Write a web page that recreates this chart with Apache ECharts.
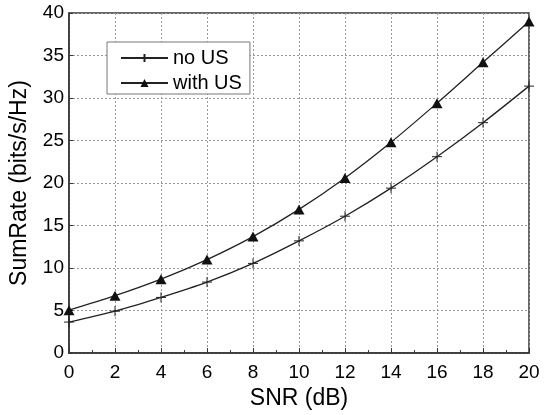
<!DOCTYPE html>
<html>
<head>
<meta charset="utf-8">
<script src="https://cdn.jsdelivr.net/npm/echarts@6/dist/echarts.min.js"></script>
<style>html,body{margin:0;padding:0;background:#fff}#c{width:548px;height:415px}</style>
</head>
<body>
<div id="c"></div>
<script>
var snr = [0, 2, 4, 6, 8, 10, 12, 14, 16, 18, 20];
var noUS = [3.65, 4.93, 6.55, 8.35, 10.55, 13.2, 16.1, 19.4, 23.1, 27.1, 31.4];
var withUS = [5.05, 6.75, 8.7, 11.0, 13.7, 16.9, 20.6, 24.8, 29.4, 34.2, 39.0];
var seriesNames = ['no US', 'with US'];
var xTicks = [0, 2, 4, 6, 8, 10, 12, 14, 16, 18, 20];
var yTicks = [0, 5, 10, 15, 20, 25, 30, 35, 40];

function pairs(xs, ys) { return xs.map(function (x, i) { return [x, ys[i]]; }); }

var FONT = 'Liberation Sans, Arial, sans-serif';
var plusPath = 'path://M0,5L10,5M5,0L5,10';
var chart = echarts.init(document.getElementById('c'));
chart.setOption({
  animation: false,
  backgroundColor: '#fff',
  grid: { left: 68, top: 13, right: 19, bottom: 60, show: true, borderColor: '#333', borderWidth: 1.5, backgroundColor: 'transparent' },
  legend: {
    orient: 'vertical', left: 107, top: 42,
    padding: [6, 8, 1, 13], itemGap: 5,
    itemWidth: 47, itemHeight: 10,
    borderColor: '#777', borderWidth: 1, backgroundColor: '#fff',
    textStyle: { fontFamily: FONT, fontSize: 20, color: '#000', lineHeight: 18, padding: [0, 0, 0, 0] },
    data: seriesNames
  },
  xAxis: {
    type: 'value', min: xTicks[0], max: xTicks[xTicks.length - 1], interval: 2,
    name: 'SNR (dB)', nameLocation: 'middle', nameGap: 32,
    nameTextStyle: { fontFamily: FONT, fontSize: 23, color: '#000' },
    axisLine: { lineStyle: { color: '#333', width: 1.5 } },
    axisTick: { inside: true, length: 5, lineStyle: { color: '#333' } },
    minorTick: { show: true, splitNumber: 2, length: 3, lineStyle: { color: '#333' } },
    axisLabel: { fontFamily: FONT, fontSize: 19, color: '#000', margin: 10 },
    splitLine: { show: true, lineStyle: { color: '#999', type: [2, 2], width: 1 } }
  },
  yAxis: {
    type: 'value', min: yTicks[0], max: yTicks[yTicks.length - 1], interval: 5,
    name: 'SumRate (bits/s/Hz)', nameLocation: 'middle', nameGap: 38,
    nameTextStyle: { fontFamily: FONT, fontSize: 23, color: '#000' },
    axisLine: { show: true, lineStyle: { color: '#333', width: 1.5 } },
    axisTick: { show: true, inside: true, length: 4, lineStyle: { color: '#333' } },
    axisLabel: { fontFamily: FONT, fontSize: 19, color: '#000', margin: 5 },
    splitLine: { show: true, lineStyle: { color: '#999', type: [2, 2], width: 1 } }
  },
  series: [
    {
      name: seriesNames[0], type: 'line', smooth: 0.3, data: pairs(snr, noUS),
      symbol: plusPath, symbolSize: 10,
      lineStyle: { color: '#222', width: 1.3 },
      itemStyle: { color: '#222', borderColor: '#222', borderWidth: 1 }
    },
    {
      name: seriesNames[1], type: 'line', smooth: 0.3, data: pairs(snr, withUS),
      symbol: 'triangle', symbolSize: [11, 10],
      lineStyle: { color: '#222', width: 1.3 },
      itemStyle: { color: '#111' }
    }
  ]
});
</script>
</body>
</html>
